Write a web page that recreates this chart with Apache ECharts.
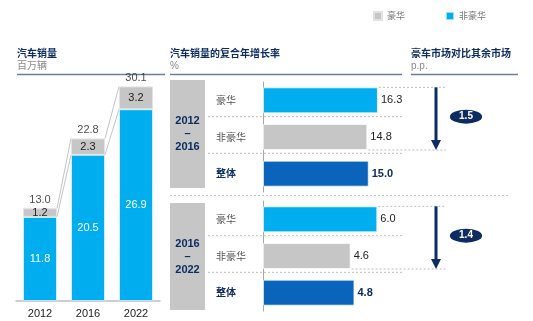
<!DOCTYPE html>
<html>
<head>
<meta charset="utf-8">
<script src="https://cdn.jsdelivr.net/npm/echarts@6/dist/echarts.min.js"></script>
<style>
html,body{margin:0;padding:0;background:#fff}
#chart{width:533px;height:321px}
</style>
</head>
<body>
<div id="chart"></div>
<script>
// Vehicle sales (millions of units), split into luxury / non-luxury
const years = ['2012', '2016', '2022'];
const luxuryVolume = [1.2, 2.3, 3.2];
const nonLuxuryVolume = [11.8, 20.5, 26.9];

// CAGR of sales (%) by segment for two periods
const segments = ['豪华', '非豪华', '整体'];
const cagr2012to2016 = [16.3, 14.8, 15.0];
const cagr2016to2022 = [6.0, 4.6, 4.8];
const periodLabels = ['2012\n–\n2016', '2016\n–\n2022'];

const C_LUX = '#c6c6c6';
const C_NON = '#00aeef';
const C_ALL = '#0a64bb';
const NAVY = '#0d2d62';
const RULE = '#6a7fa0';
const FONT = 'Arial, "Liberation Sans", "Noto Sans CJK SC", sans-serif';
const CJK = '"Noto Sans CJK SC", sans-serif';

const VOL_BAR_W = 34;
const CAGR_BAR_H = 26;

const totals = years.map((_, i) => +(luxuryVolume[i] + nonLuxuryVolume[i]).toFixed(1));

// connector segments between neighbouring stacked columns
const connectorData = [];
for (let i = 0; i < years.length - 1; i++) {
  connectorData.push([i, totals[i], totals[i + 1], nonLuxuryVolume[i], nonLuxuryVolume[i + 1]]);
}

function renderConnector(params, api) {
  const i = api.value(0);
  const half = VOL_BAR_W / 2;
  const a0 = api.coord([i, api.value(1)]);
  const a1 = api.coord([i + 1, api.value(2)]);
  const b0 = api.coord([i, api.value(3)]);
  const b1 = api.coord([i + 1, api.value(4)]);
  const st = { stroke: '#b4b4b4', lineWidth: 0.8 };
  return {
    type: 'group',
    children: [
      { type: 'line', shape: { x1: a0[0] + half, y1: a0[1], x2: a1[0] - half, y2: a1[1] }, style: st },
      { type: 'line', shape: { x1: b0[0] + half, y1: b0[1], x2: b1[0] - half, y2: b1[1] }, style: st }
    ]
  };
}

// row separators, luxury vs non-luxury gap arrow and badge for one CAGR panel
function renderGap(params, api) {
  const cs = params.coordSys;
  const lux = api.value(0);
  const non = api.value(1);
  const pLux = api.coord([lux, 0]);
  const pNon = api.coord([non, 1]);
  const pAll = api.coord([0, 2]);
  const top = pLux[1] - CAGR_BAR_H / 2;
  const bottom = pNon[1] + CAGR_BAR_H / 2;
  const right = cs.x + cs.width;
  const arrowX = right + 32;
  const guideEnd = right + 42;
  const dot = { stroke: '#bdbdbd', lineWidth: 1, lineDash: [2, 2] };
  const sep1 = (pLux[1] + pNon[1]) / 2 - 2;
  const sep2 = (pNon[1] + pAll[1]) / 2 - 2;
  const gap = (lux - non).toFixed(1);
  const cy = (top + bottom) / 2 - 2;
  return {
    type: 'group',
    children: [
      { type: 'line', shape: { x1: cs.x - 55, y1: sep1, x2: right - 2, y2: sep1 }, style: dot },
      { type: 'line', shape: { x1: cs.x - 55, y1: sep2, x2: right - 2, y2: sep2 }, style: dot },
      { type: 'line', shape: { x1: pLux[0] + 1, y1: top, x2: guideEnd, y2: top }, style: dot },
      { type: 'line', shape: { x1: pNon[0] + 1, y1: bottom, x2: guideEnd, y2: bottom }, style: dot },
      { type: 'line', shape: { x1: arrowX, y1: top, x2: arrowX, y2: bottom - 9 }, style: { stroke: NAVY, lineWidth: 3 } },
      { type: 'polygon', shape: { points: [[arrowX - 5, bottom - 10], [arrowX + 5, bottom - 10], [arrowX, bottom]] }, style: { fill: NAVY } },
      { type: 'circle', x: right + 62, y: cy, scaleX: 2.3, shape: { cx: 0, cy: 0, r: 7 }, style: { fill: NAVY } },
      { type: 'text', x: right + 62, y: cy, style: { text: gap, fill: '#fff', font: 'bold 10px ' + FONT, align: 'center', verticalAlign: 'middle', textAlign: 'center', textVerticalAlign: 'middle' } }
    ]
  };
}

function cagrItems(values) {
  const colors = [C_NON, C_LUX, C_ALL];
  return values.map((v, i) => {
    const item = { value: v, itemStyle: { color: colors[i] } };
    if (i === 2) item.label = { fontWeight: 'bold', color: NAVY };
    return item;
  });
}

function segmentAxis(gridIndex) {
  return {
    type: 'category', gridIndex, inverse: true, data: segments,
    axisLine: { show: true, lineStyle: { color: '#a8a8a8', width: 1 } },
    axisTick: { show: false },
    axisLabel: {
      margin: 47, align: 'left', fontSize: 10, color: '#555', fontFamily: CJK,
      formatter: (v) => v === '整体' ? '{b|' + v + '}' : v,
      rich: { b: { fontWeight: 'bold', color: NAVY, fontSize: 10, fontFamily: CJK } }
    }
  };
}

function cagrSeries(idx, values) {
  return [
    {
      type: 'bar', xAxisIndex: idx, yAxisIndex: idx, barWidth: CAGR_BAR_H,
      data: cagrItems(values),
      itemStyle: { borderColor: 'rgba(255,255,255,0.7)', borderWidth: 1 },
      label: { show: true, position: 'right', distance: 3, fontSize: 11, color: '#222', fontFamily: FONT, formatter: (p) => p.value.toFixed(1) }
    },
    {
      type: 'custom', xAxisIndex: idx, yAxisIndex: idx, renderItem: renderGap, silent: true,
      encode: { x: [0, 1], y: 2 },
      data: [[values[0], values[1], 0]], z: 1
    }
  ];
}

const headers = [
  { x: 17, title: '汽车销量', unit: '百万辆', x2: 165 },
  { x: 170, title: '汽车销量的复合年增长率', unit: '%', x2: 402 },
  { x: 411, title: '豪车市场对比其余市场', unit: 'p.p.', x2: 518 }
];

const graphic = [];
headers.forEach((h) => {
  graphic.push({ type: 'text', left: h.x, top: 48, style: { text: h.title, fill: NAVY, font: 'bold 10px ' + CJK } });
  graphic.push({ type: 'text', left: h.x, top: 61, style: { text: h.unit, fill: '#8a8a8a', font: '10px ' + FONT } });
  graphic.push({ type: 'line', shape: { x1: h.x, y1: 74.5, x2: h.x2, y2: 74.5 }, style: { stroke: RULE, lineWidth: 1.5 } });
});
// period boxes
[[80, 108], [203, 107]].forEach((b, i) => {
  graphic.push({ type: 'rect', shape: { x: 170, y: b[0], width: 35, height: b[1] }, style: { fill: C_LUX } });
  graphic.push({ type: 'text', x: 187.5, y: b[0] + b[1] / 2, style: { text: periodLabels[i], fill: NAVY, font: 'bold 11px ' + FONT, align: 'center', verticalAlign: 'middle', lineHeight: 13 } });
});
graphic.push({ type: 'line', shape: { x1: 170, y1: 195.5, x2: 509, y2: 195.5 }, style: { stroke: '#c4c4c4', lineWidth: 1, lineDash: [2, 2] } });

const chart = echarts.init(document.getElementById('chart'), null, { renderer: 'canvas' });
chart.setOption({
  animation: false,
  textStyle: { fontFamily: FONT },
  legend: {
    data: ['豪华', '非豪华'], left: 368, top: 6, icon: 'rect', itemWidth: 8, itemHeight: 8, itemGap: 40,
    textStyle: { fontSize: 9, color: '#777', fontFamily: CJK }, selectedMode: false
  },
  graphic,
  grid: [
    { left: 16, top: 80, width: 144, height: 221 },
    { left: 263, top: 82, width: 141, height: 110 },
    { left: 263, top: 201, width: 141, height: 110 }
  ],
  xAxis: [
    {
      type: 'category', gridIndex: 0, data: years,
      axisLine: { lineStyle: { color: '#bdbdbd', width: 1.5 } }, axisTick: { show: false },
      axisLabel: { fontSize: 11, color: '#222', margin: 7 }
    },
    { type: 'value', gridIndex: 1, min: 0, max: 20, show: false },
    { type: 'value', gridIndex: 2, min: 0, max: 7.4, show: false }
  ],
  yAxis: [
    { type: 'value', gridIndex: 0, min: 0, max: 31, show: false },
    segmentAxis(1),
    segmentAxis(2)
  ],
  series: [
    {
      name: '非豪华', type: 'bar', stack: 'vol', xAxisIndex: 0, yAxisIndex: 0, barWidth: VOL_BAR_W,
      data: nonLuxuryVolume, itemStyle: { color: C_NON, borderColor: 'rgba(255,255,255,0.6)', borderWidth: 1 },
      label: { show: true, position: 'inside', color: '#fff', fontSize: 11, formatter: (p) => p.value.toFixed(1) }
    },
    {
      name: '豪华', type: 'bar', stack: 'vol', xAxisIndex: 0, yAxisIndex: 0, barWidth: VOL_BAR_W,
      data: luxuryVolume, itemStyle: { color: C_LUX, borderColor: '#e2e2e2', borderWidth: 1 },
      label: { show: true, position: 'inside', color: '#222', fontSize: 11, formatter: (p) => p.value.toFixed(1) }
    },
    {
      name: 'total', type: 'scatter', xAxisIndex: 0, yAxisIndex: 0, data: totals, symbolSize: 1,
      itemStyle: { color: 'rgba(0,0,0,0)' }, silent: true,
      label: { show: true, position: 'top', distance: 2, color: '#222', fontSize: 11, formatter: (p) => p.value.toFixed(1) }
    },
    {
      type: 'custom', xAxisIndex: 0, yAxisIndex: 0, renderItem: renderConnector, silent: true,
      encode: { x: 0, y: [1, 2, 3, 4] }, data: connectorData, z: 1
    },
    ...cagrSeries(1, cagr2012to2016),
    ...cagrSeries(2, cagr2016to2022)
  ]
});
</script>
</body>
</html>
